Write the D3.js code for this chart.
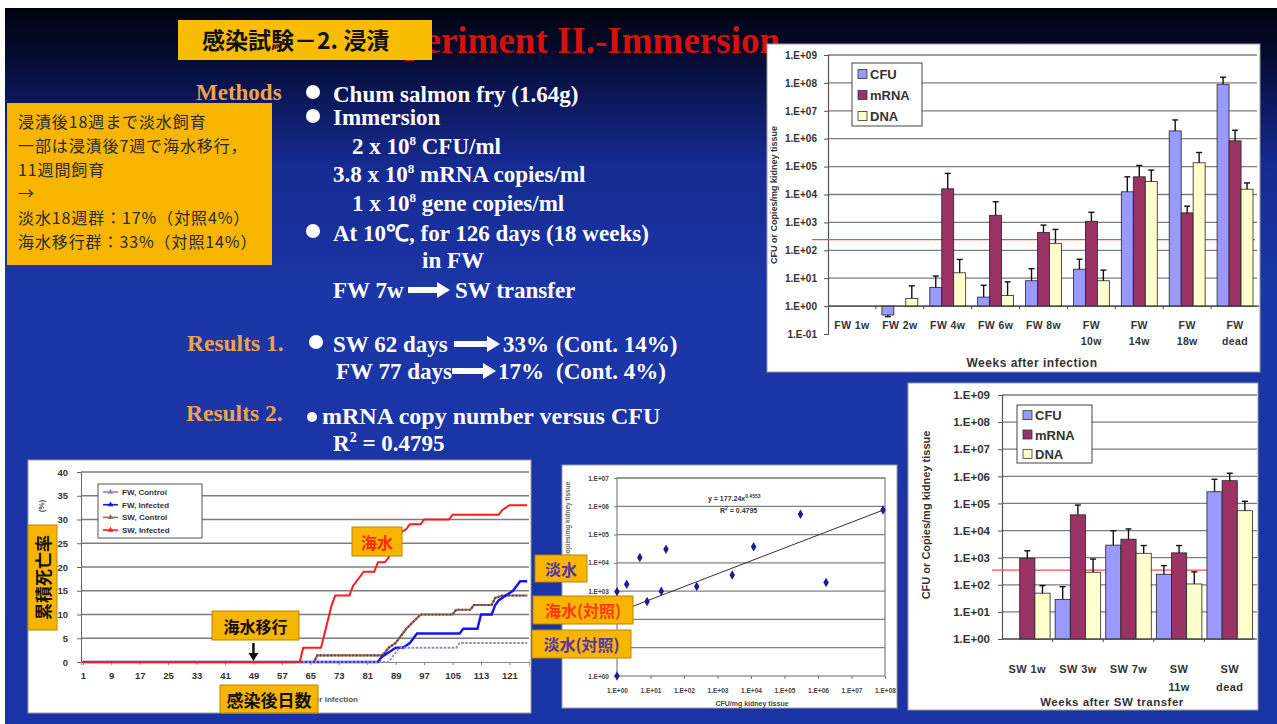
<!DOCTYPE html>
<html><head><meta charset="utf-8">
<script src="https://cdn.jsdelivr.net/npm/d3@7"></script>
<style>
html,body{margin:0;padding:0;background:#fff;}
svg{display:block;}
</style></head><body>
<svg id="slide" width="1277" height="724"></svg>
<script>
// ---------- data ----------
const seriesKeys = ["CFU", "mRNA", "DNA"];

// kidney loads during freshwater rearing (per mg kidney tissue)
const fwWeeks   = ["FW 1w", "FW 2w", "FW 4w", "FW 6w", "FW 8w", "FW 10w", "FW 14w", "FW 18w", "FW dead"];
const fwLabels  = [["FW 1w"], ["FW 2w"], ["FW 4w"], ["FW 6w"], ["FW 8w"], ["FW", "10w"], ["FW", "14w"], ["FW", "18w"], ["FW", "dead"]];
const fwCFU     = [1, 0.48, 4.7, 2.1, 8.1, 21, 1.25e4, 1.9e6, 8.9e7];
const fwCFUErr  = [null, 0.42, 12, 5.6, 22, 48, 4.3e4, 4.7e6, 1.6e8];
const fwMRNA    = [1, 1, 1.6e4, 1.8e3, 440, 1.1e3, 4.3e4, 2.2e3, 8.4e5];
const fwMRNAErr = [null, null, 5.7e4, 5.5e3, 800, 2.3e3, 1.1e5, 3.8e3, 2.0e6];
const fwDNA     = [1, 1.9, 15.6, 2.4, 178, 8.1, 2.9e4, 1.37e5, 1.55e4];
const fwDNAErr  = [null, 5.3, 47, 7.4, 560, 19.5, 7.5e4, 3.2e5, 2.6e4];
const fwLimit   = 240;

// kidney loads after seawater transfer
const swWeeks   = ["SW 1w", "SW 3w", "SW 7w", "SW 11w", "SW dead"];
const swLabels  = [["SW 1w"], ["SW 3w"], ["SW 7w"], ["SW", "11w"], ["SW", "dead"]];
const swCFU     = [1, 29, 2.9e3, 245, 2.7e5];
const swCFUErr  = [null, 85, 9.9e3, 510, 7.8e5];
const swMRNA    = [950, 3.8e4, 4.8e3, 1.5e3, 6.9e5];
const swMRNAErr = [1.8e3, 8.7e4, 1.15e4, 2.8e3, 1.3e6];
const swDNA     = [49, 290, 1.45e3, 107, 5.4e4];
const swDNAErr  = [93, 890, 2.8e3, 300, 1.2e5];
const swLimit   = 350;

const logTicksFW = [1e-1, 1, 1e1, 1e2, 1e3, 1e4, 1e5, 1e6, 1e7, 1e8, 1e9];
const logTicksSW = [1, 1e1, 1e2, 1e3, 1e4, 1e5, 1e6, 1e7, 1e8, 1e9];

// cumulative mortality (%) : [day, percent] change points
const fwControl  = [[1,0],[87,0],[88,1],[89,2],[90,3],[106,3],[107,4],[126,4]];
const fwInfected = [[1,0],[84,0],[85,1],[87,2],[89,3],[91,3],[93,4],[95,6],[107,6],[108,7],[112,7],[113,10],[116,10],[117,12],[118,13],[120,14],[122,15],[124,17],[126,17]];
const swControl  = [[1,0],[66,0],[67,1.4],[85,1.4],[86,2],[87,3],[89,4],[91,6],[92,7],[94,8.5],[96,10],[105,10],[106,11],[110,11],[111,12],[116,12],[117,13.5],[119,14],[126,14]];
const swInfected = [[1,0],[62,0],[63,3],[68,3],[69,6],[70,9],[71,12],[72,14],[76,14],[77,16],[78,17],[80,19],[83,19],[84,21],[86,21],[87,22],[88,24],[89,25],[90,27],[92,28],[93,29],[96,29],[97,30],[104,30],[105,31],[118,31],[119,32],[121,33],[126,33]];
const dayTicks   = [1, 9, 17, 25, 33, 41, 49, 57, 65, 73, 81, 89, 97, 105, 113, 121];
const pctTicks   = [0, 5, 10, 15, 20, 25, 30, 35, 40];
const swTransferDay = 49;

// mRNA copies vs CFU per mg kidney tissue
const cfuPerMg  = [1, 1, 1.95, 4.8, 7.9, 21, 29, 240, 2.75e3, 1.2e4, 3.0e5, 1.74e6, 8.7e7];
const mrnaPerMg = [1, 955, 1.74e3, 1.55e4, 427, 1.0e3, 3.02e4, 1.45e3, 3.72e3, 3.72e4, 5.25e5, 2.04e3, 7.41e5];
const trendA = 177.24, trendB = 0.4553;
const scatterXTicks = [1, 1e1, 1e2, 1e3, 1e4, 1e5, 1e6, 1e7, 1e8];
const scatterYTicks = [1, 1e1, 1e2, 1e3, 1e4, 1e5, 1e6, 1e7];
// decades whose labels sit under the group tags
const scatterYCovered = [1e1, 1e2];

// ---------- styles ----------
const YELLOW = "#f7b500";
const SERIF = "'Liberation Serif','Times New Roman',serif";
const SANS = "'Liberation Sans',Arial,sans-serif";
const CJK = "'Noto Sans CJK JP','Noto Sans CJK SC',sans-serif";
const barColor = {CFU: "#9999ff", mRNA: "#993366", DNA: "#ffffcc"};

const fmtE = d => {
  const e = Math.round(Math.log10(d));
  return "1.E" + (e < 0 ? "-" : "+") + String(Math.abs(e)).padStart(2, "0");
};

const svg = d3.select("#slide");
const defs = svg.append("defs");
const bg = defs.append("linearGradient").attr("id", "bg").attr("x1", 0).attr("y1", 0).attr("x2", 0).attr("y2", 1);
[[0, "#01030f"], [0.06, "#040a2c"], [0.13, "#0c185c"], [0.22, "#162b92"], [0.4, "#1b36a6"], [1, "#1a34a6"]]
  .forEach(([o, c]) => bg.append("stop").attr("offset", o).attr("stop-color", c));

svg.append("rect").attr("x", 5).attr("y", 8).attr("width", 1272).attr("height", 716).attr("fill", "url(#bg)");

// ---------- slide heading ----------
svg.append("text").attr("x", 780).attr("y", 53).attr("text-anchor", "end")
  .attr("font-family", SERIF).attr("font-weight", "bold").attr("font-size", 37).attr("fill", "#d60f0f")
  .text("Experiment II.-Immersion");
svg.append("rect").attr("x", 178).attr("y", 20).attr("width", 254).attr("height", 40).attr("fill", "#f9bd00");
svg.append("text").attr("x", 202).attr("y", 49).attr("font-family", CJK).attr("font-weight", "bold")
  .attr("font-size", 23).attr("fill", "#111").text("感染試験－2. 浸漬");

// ---------- methods / results text ----------
function txt(x, y, s, opt = {}) {
  return svg.append("text").attr("x", x).attr("y", y)
    .attr("font-family", opt.family || SERIF).attr("font-weight", opt.weight || "bold")
    .attr("font-size", opt.size || 23).attr("fill", opt.fill || "#fff").text(s);
}
function bullet(x, y, r = 7) {
  svg.append("circle").attr("cx", x).attr("cy", y).attr("r", r).attr("fill", "#fff");
}
function arrow(x1, x2, y) {
  svg.append("path").attr("fill", "#fff")
    .attr("d", `M${x1},${y - 3}L${x2 - 13},${y - 3}L${x2 - 13},${y - 8}L${x2},${y}L${x2 - 13},${y + 8}L${x2 - 13},${y + 3}L${x1},${y + 3}Z`);
}
function sup(textSel, base, exp, rest) {
  textSel.text(null);
  textSel.append("tspan").text(base);
  textSel.append("tspan").attr("font-size", 13).attr("dy", -9).text(exp);
  textSel.append("tspan").attr("dy", 9).text(rest);
}

const ORANGE = "#eea24a";
txt(196, 100, "Methods", {fill: ORANGE});
bullet(313, 92);
txt(333, 102, "Chum salmon fry (1.64g)");
bullet(313, 116);
txt(333, 125, "Immersion");
sup(txt(352, 154, ""), "2 x 10", "8", " CFU/ml");
sup(txt(333, 182, ""), "3.8 x 10", "8", " mRNA copies/ml");
sup(txt(352, 211, ""), "1 x 10", "8", "  gene copies/ml");
bullet(313, 231);
txt(333, 241, "At 10℃, for 126 days (18 weeks)");
txt(422, 268, "in FW");
txt(333, 298, "FW 7w");
arrow(408, 450, 290);
txt(455, 298, "SW transfer");

txt(187, 351, "Results 1.", {fill: ORANGE, size: 23.5});
bullet(316, 342);
txt(333, 352, "SW 62 days");
arrow(454, 500, 344);
txt(503, 352, "33%");
txt(556, 352, "(Cont. 14%)");
txt(336, 379, "FW 77 days");
arrow(452, 496, 371);
txt(498, 379, "17%");
txt(556, 379, "(Cont. 4%)");

txt(186, 421, "Results 2.", {fill: ORANGE, size: 23.5});
bullet(312, 417, 5);
txt(322, 424, "mRNA copy number versus CFU", {size: 24});
const r2 = txt(333, 451, "");
r2.append("tspan").text("R");
r2.append("tspan").attr("font-size", 14).attr("dy", -9).text("2");
r2.append("tspan").attr("dy", 9).text(" = 0.4795");

// note box (Japanese summary)
svg.append("rect").attr("x", 7).attr("y", 103).attr("width", 265).attr("height", 162).attr("fill", YELLOW);
const noteLines = ["浸漬後18週まで淡水飼育", "一部は浸漬後7週で海水移行，", "11週間飼育", "→", "淡水18週群：17%（対照4%）", "海水移行群：33%（対照14%）"];
const noteY = [128, 152, 176, 199, 224, 248];
noteLines.forEach((s, i) => txt(18, noteY[i], s, {family: CJK, weight: "normal", size: 16, fill: "#2b2b2b"})
  .attr("letter-spacing", 0.9));

// ---------- grouped log bar charts ----------
function barPanel(o) {
  const g = svg.append("g");
  g.append("rect").attr("x", o.px).attr("y", o.py).attr("width", o.pw).attr("height", o.ph)
    .attr("fill", "#fff").attr("stroke", "#9a9a9a");
  const y = d3.scaleLog().domain([o.ticks[0], 1e9]).range([o.bottom, o.top]);
  const x = d3.scaleBand().domain(o.cats).range([o.left, o.right]).paddingInner(o.padIn).paddingOuter(o.padOut);
  const xs = d3.scaleBand().domain(seriesKeys).range([0, x.bandwidth()]);

  // gridlines
  g.append("g").selectAll("line").data(o.ticks.filter(t => t >= 1)).join("line")
    .attr("x1", o.left).attr("x2", o.gridRight).attr("y1", d => y(d)).attr("y2", d => y(d))
    .attr("stroke", "#7d7d7d").attr("stroke-width", 1.3);

  // value axis
  const ax = g.append("g").attr("transform", `translate(${o.left},0)`)
    .call(d3.axisLeft(y).tickValues(o.ticks).tickFormat(fmtE).tickSize(4).tickPadding(o.tickPad));
  ax.select(".domain").attr("stroke", "#555").attr("stroke-width", 1.2);
  ax.selectAll(".tick line").attr("stroke", "#555");
  ax.selectAll(".tick text").attr("font-family", SANS).attr("font-weight", "bold")
    .attr("font-size", o.tickSize).attr("fill", "#333");

  // detection limit
  g.append("line").attr("x1", o.limitX1).attr("x2", o.right - 4).attr("y1", y(o.limit)).attr("y2", y(o.limit))
    .attr("stroke", "#ff4a4a").attr("stroke-width", 1.2);

  // bars
  o.series.forEach(s => {
    g.append("g").selectAll("rect").data(s.values).join("rect")
      .attr("x", (d, i) => x(o.cats[i]) + xs(s.key))
      .attr("y", d => Math.min(y(d), y(1)))
      .attr("width", xs.bandwidth())
      .attr("height", d => Math.abs(y(d) - y(1)))
      .attr("fill", barColor[s.key]).attr("stroke", "#222").attr("stroke-width", 0.8);
    // error bars
    const eg = g.append("g").attr("stroke", "#111").attr("stroke-width", 1.4);
    s.err.forEach((e, i) => {
      if (e == null) return;
      const cx = x(o.cats[i]) + xs(s.key) + xs.bandwidth() / 2;
      eg.append("line").attr("x1", cx).attr("x2", cx).attr("y1", y(s.values[i])).attr("y2", y(e));
      eg.append("line").attr("x1", cx - 3).attr("x2", cx + 3).attr("y1", y(e)).attr("y2", y(e));
    });
  });

  // category axis at 1.E+00
  g.append("line").attr("x1", o.left).attr("x2", o.right).attr("y1", y(1)).attr("y2", y(1))
    .attr("stroke", "#444").attr("stroke-width", 1.2);
  g.append("g").selectAll("line").data(o.cats.slice(1)).join("line")
    .attr("x1", d => x(d) - x.step() * x.paddingInner() / 2).attr("x2", d => x(d) - x.step() * x.paddingInner() / 2)
    .attr("y1", y(1)).attr("y2", y(1) + 3).attr("stroke", "#444");

  // category labels
  o.labels.forEach((lines, i) => {
    lines.forEach((l, j) => {
      g.append("text").attr("x", x(o.cats[i]) + x.bandwidth() / 2).attr("y", o.labelY + j * o.labelDy)
        .attr("text-anchor", "middle").attr("font-family", SANS).attr("font-weight", "bold")
        .attr("font-size", o.labelSize).attr("letter-spacing", 0.4).attr("fill", "#333").text(l);
    });
  });

  // titles
  g.append("text").attr("x", o.titleX).attr("y", o.titleY).attr("text-anchor", "middle")
    .attr("font-family", SANS).attr("font-weight", "bold").attr("font-size", o.xTitleSize)
    .attr("letter-spacing", 0.5).attr("fill", "#333").text(o.xTitle);
  g.append("text").attr("transform", `translate(${o.yTitleX},${o.yTitleY}) rotate(-90)`).attr("text-anchor", "middle")
    .attr("font-family", SANS).attr("font-weight", "bold").attr("font-size", o.yTitleSize).attr("fill", "#333")
    .text("CFU or Copies/mg kidney tissue");

  // legend
  const lg = g.append("g").attr("transform", `translate(${o.legX},${o.legY})`);
  lg.append("rect").attr("width", o.legW).attr("height", o.legH).attr("fill", "#fff").attr("stroke", "#444");
  seriesKeys.forEach((k, i) => {
    const cy = o.legH * (i + 0.5) / 3 + 1;
    lg.append("rect").attr("x", 6).attr("y", cy - 5).attr("width", 9).attr("height", 9)
      .attr("fill", barColor[k]).attr("stroke", "#333").attr("stroke-width", 0.8);
    lg.append("text").attr("x", 18).attr("y", cy + 4.5).attr("font-family", SANS).attr("font-weight", "bold")
      .attr("font-size", 13).attr("fill", "#333").text(k);
  });
}

barPanel({
  px: 767, py: 44, pw: 493, ph: 328,
  left: 828, right: 1259, gridRight: 1257, top: 55, bottom: 334,
  ticks: logTicksFW, cats: fwWeeks, labels: fwLabels, padIn: 0.25, padOut: 0.125,
  series: [{key: "CFU", values: fwCFU, err: fwCFUErr}, {key: "mRNA", values: fwMRNA, err: fwMRNAErr}, {key: "DNA", values: fwDNA, err: fwDNAErr}],
  limit: fwLimit, limitX1: 812, tickSize: 10, tickPad: 7, labelSize: 10.5, labelY: 329, labelDy: 16,
  xTitle: "Weeks after infection", xTitleSize: 12, titleX: 1032, titleY: 367,
  yTitleX: 777, yTitleY: 195, yTitleSize: 9,
  legX: 852, legY: 63, legW: 70, legH: 63
});

barPanel({
  px: 908, py: 383, pw: 350, ph: 327,
  left: 1002, right: 1255, gridRight: 1257, top: 395, bottom: 639,
  ticks: logTicksSW, cats: swWeeks, labels: swLabels, padIn: 0.1, padOut: 0.05,
  series: [{key: "CFU", values: swCFU, err: swCFUErr}, {key: "mRNA", values: swMRNA, err: swMRNAErr}, {key: "DNA", values: swDNA, err: swDNAErr}],
  limit: swLimit, limitX1: 992, tickSize: 11.5, tickPad: 8, labelSize: 11, labelY: 673, labelDy: 18,
  xTitle: "Weeks after SW transfer", xTitleSize: 11.5, titleX: 1112, titleY: 706,
  yTitleX: 930, yTitleY: 515, yTitleSize: 11,
  legX: 1017, legY: 405, legW: 75, legH: 58
});

// ---------- cumulative mortality chart ----------
(function () {
  const g = svg.append("g");
  g.append("rect").attr("x", 28).attr("y", 460).attr("width", 503).attr("height", 253).attr("fill", "#fff").attr("stroke", "#9a9a9a");
  const x = d3.scaleLinear().domain([0.5, 126.5]).range([81, 529]);
  const y = d3.scaleLinear().domain([0, 40]).range([662, 472]);

  g.append("g").selectAll("line").data(pctTicks.filter(t => t > 0)).join("line")
    .attr("x1", 81).attr("x2", 529).attr("y1", d => y(d)).attr("y2", d => y(d))
    .attr("stroke", "#7d7d7d").attr("stroke-width", 1.4);
  const ay = g.append("g").attr("transform", "translate(81,0)")
    .call(d3.axisLeft(y).tickValues(pctTicks).tickSize(4).tickPadding(9));
  ay.select(".domain").attr("stroke", "#666");
  ay.selectAll(".tick line").attr("stroke", "#666");
  ay.selectAll(".tick text").attr("font-family", SANS).attr("font-weight", "bold").attr("font-size", 9.5).attr("fill", "#333");
  const ax = g.append("g").attr("transform", `translate(0,${y(0)})`)
    .call(d3.axisBottom(x).tickValues(dayTicks).tickSize(3).tickPadding(7));
  ax.select(".domain").attr("stroke", "#888");
  ax.selectAll(".tick line").attr("stroke", "#888");
  ax.selectAll(".tick text").attr("font-family", SANS).attr("font-weight", "bold").attr("font-size", 9.5).attr("fill", "#333");

  const line = d3.line().x(d => x(d[0])).y(d => y(d[1]));
  g.append("path").datum(swControl).attr("d", line).attr("fill", "none").attr("stroke", "#9a6a5e").attr("stroke-width", 2.2);
  g.append("path").datum(swControl).attr("d", line).attr("fill", "none").attr("stroke", "#5a3a30").attr("stroke-width", 2.2).attr("stroke-dasharray", "1.2,2.4");
  g.append("path").datum(fwInfected).attr("d", line).attr("fill", "none").attr("stroke", "#1414ff").attr("stroke-width", 2.4);
  g.append("path").datum(fwControl).attr("d", line).attr("fill", "none").attr("stroke", "#8c8cb4").attr("stroke-width", 1.8).attr("stroke-dasharray", "2.5,1.5");
  g.append("path").datum(swInfected).attr("d", line).attr("fill", "none").attr("stroke", "#ff1a1a").attr("stroke-width", 2);

  // legend
  const legend = [["FW,  Control", "#8c8cb4"], ["FW,  Infected", "#1414ff"], ["SW,  Control", "#9a6a5e"], ["SW,  Infected", "#ff1a1a"]];
  const lg = g.append("g").attr("transform", "translate(98,484)");
  lg.append("rect").attr("width", 104).attr("height", 54).attr("fill", "#fff").attr("stroke", "#555");
  legend.forEach(([name, c], i) => {
    const cy = 8 + i * 12.7;
    lg.append("line").attr("x1", 5).attr("x2", 20).attr("y1", cy).attr("y2", cy).attr("stroke", c).attr("stroke-width", 1.6);
    lg.append("path").attr("d", d3.symbol(d3.symbolTriangle, 14)()).attr("transform", `translate(12.5,${cy})`).attr("fill", c);
    lg.append("text").attr("x", 24).attr("y", cy + 3).attr("font-family", SANS).attr("font-weight", "bold")
      .attr("font-size", 8).attr("fill", "#333").text(name);
  });

  // axis titles with overlaid labels
  g.append("text").attr("transform", "translate(44,506) rotate(-90)").attr("text-anchor", "middle")
    .attr("font-family", SANS).attr("font-weight", "bold").attr("font-size", 8).attr("fill", "#444").text("(%)");
  // the x title mostly sits under its Japanese tag; only its tail shows
  g.append("clipPath").attr("id", "xTitleClip").append("rect").attr("x", 318).attr("y", 690).attr("width", 60).attr("height", 20);
  g.append("text").attr("x", 358).attr("y", 702).attr("text-anchor", "end").attr("font-family", SANS)
    .attr("clip-path", "url(#xTitleClip)")
    .attr("font-weight", "bold").attr("font-size", 8).attr("fill", "#555").text("Days after infection");

  function tag(x0, y0, w, h, s, color, size, rot) {
    g.append("rect").attr("x", x0).attr("y", y0).attr("width", w).attr("height", h)
      .attr("fill", YELLOW).attr("stroke", "#b88600").attr("stroke-width", 1);
    const t = g.append("text").attr("font-family", CJK).attr("font-weight", "bold").attr("font-size", size)
      .attr("fill", color).attr("text-anchor", "middle").attr("dominant-baseline", "central").text(s);
    if (rot) t.attr("transform", `translate(${x0 + w / 2},${y0 + h / 2}) rotate(-90)`);
    else t.attr("x", x0 + w / 2).attr("y", y0 + h / 2);
  }
  tag(28, 525, 29, 105, "累積死亡率", "#111", 17, true);
  tag(352, 527, 50, 29, "海水", "#ff2a00", 16);
  tag(212, 611, 87, 29, "海水移行", "#111", 16);
  tag(220, 685, 98, 28, "感染後日数", "#111", 17);

  // arrow marking the seawater transfer
  const ax0 = x(swTransferDay);
  g.append("line").attr("x1", ax0).attr("x2", ax0).attr("y1", 643).attr("y2", 654).attr("stroke", "#111").attr("stroke-width", 2.5);
  g.append("path").attr("d", `M${ax0 - 5},${653}L${ax0 + 5},${653}L${ax0},${661}Z`).attr("fill", "#111");
})();

// ---------- mRNA vs CFU scatter ----------
(function () {
  const g = svg.append("g");
  g.append("rect").attr("x", 562).attr("y", 465).attr("width", 335).attr("height", 243).attr("fill", "#fff").attr("stroke", "#9a9a9a");
  const x = d3.scaleLog().domain([1, 1e8]).range([617, 885]);
  const y = d3.scaleLog().domain([1, 1e7]).range([676, 478]);

  g.append("g").selectAll("line").data(scatterYTicks.slice(1)).join("line")
    .attr("x1", 617).attr("x2", 885).attr("y1", d => y(d)).attr("y2", d => y(d))
    .attr("stroke", "#808080").attr("stroke-width", 1.2);
  g.append("rect").attr("x", 617).attr("y", 478).attr("width", 268).attr("height", 198)
    .attr("fill", "none").attr("stroke", "#808080").attr("stroke-width", 1.2);

  const ay = g.append("g").attr("transform", "translate(617,0)")
    .call(d3.axisLeft(y).tickValues(scatterYTicks)
      .tickFormat(d => scatterYCovered.includes(d) ? "" : fmtE(d)).tickSize(3).tickPadding(5));
  const ax = g.append("g").attr("transform", "translate(0,676)")
    .call(d3.axisBottom(x).tickValues(scatterXTicks).tickFormat(fmtE).tickSize(3).tickPadding(9));
  [ax, ay].forEach(a => {
    a.select(".domain").remove();
    a.selectAll(".tick line").attr("stroke", "#777");
    a.selectAll(".tick text").attr("font-family", SANS).attr("font-weight", "bold").attr("font-size", 6.5).attr("fill", "#444");
  });
  g.append("text").attr("x", 752).attr("y", 706).attr("text-anchor", "middle").attr("font-family", SANS)
    .attr("font-weight", "bold").attr("font-size", 7).attr("fill", "#444").text("CFU/mg kidney tissue");
  g.append("text").attr("transform", "translate(570,530) rotate(-90)").attr("text-anchor", "middle").attr("font-family", SANS)
    .attr("font-weight", "bold").attr("font-size", 6.5).attr("fill", "#666").text("mRNA copies/mg kidney tissue");

  // power trendline
  const tx = [1, 1e8];
  g.append("line").attr("x1", x(tx[0])).attr("y1", y(trendA * Math.pow(tx[0], trendB)))
    .attr("x2", x(tx[1])).attr("y2", y(trendA * Math.pow(tx[1], trendB)))
    .attr("stroke", "#333").attr("stroke-width", 1);

  g.append("g").selectAll("path").data(cfuPerMg).join("path")
    .attr("d", d3.symbol(d3.symbolDiamond, 26)())
    .attr("transform", (d, i) => `translate(${x(d)},${y(mrnaPerMg[i])})`)
    .attr("fill", "#1c1c96");

  const eq = g.append("text").attr("x", 708).attr("y", 501).attr("font-family", SANS).attr("font-weight", "bold")
    .attr("font-size", 7).attr("fill", "#333");
  eq.append("tspan").text("y = 177.24x");
  eq.append("tspan").attr("font-size", 5).attr("dy", -3).text("0.4553");
  const rr = g.append("text").attr("x", 720).attr("y", 513).attr("font-family", SANS).attr("font-weight", "bold")
    .attr("font-size", 7).attr("fill", "#333");
  rr.append("tspan").text("R");
  rr.append("tspan").attr("font-size", 5).attr("dy", -3).text("2");
  rr.append("tspan").attr("dy", 3).text(" = 0.4795");
})();

// ---------- group tags beside the mortality chart ----------
function sideTag(x0, y0, w, h, s, color) {
  svg.append("rect").attr("x", x0).attr("y", y0).attr("width", w).attr("height", h)
    .attr("fill", YELLOW).attr("stroke", "#b88600");
  svg.append("text").attr("x", x0 + w / 2).attr("y", y0 + h / 2).attr("text-anchor", "middle")
    .attr("dominant-baseline", "central").attr("font-family", CJK).attr("font-weight", "bold")
    .attr("font-size", 16).attr("fill", color).text(s);
}
sideTag(535, 555, 52, 27, "淡水", "#5236a6");
sideTag(533, 596, 100, 28, "海水(対照)", "#ff3a10");
sideTag(532, 630, 99, 28, "淡水(対照)", "#5236a6");
</script></body></html>
